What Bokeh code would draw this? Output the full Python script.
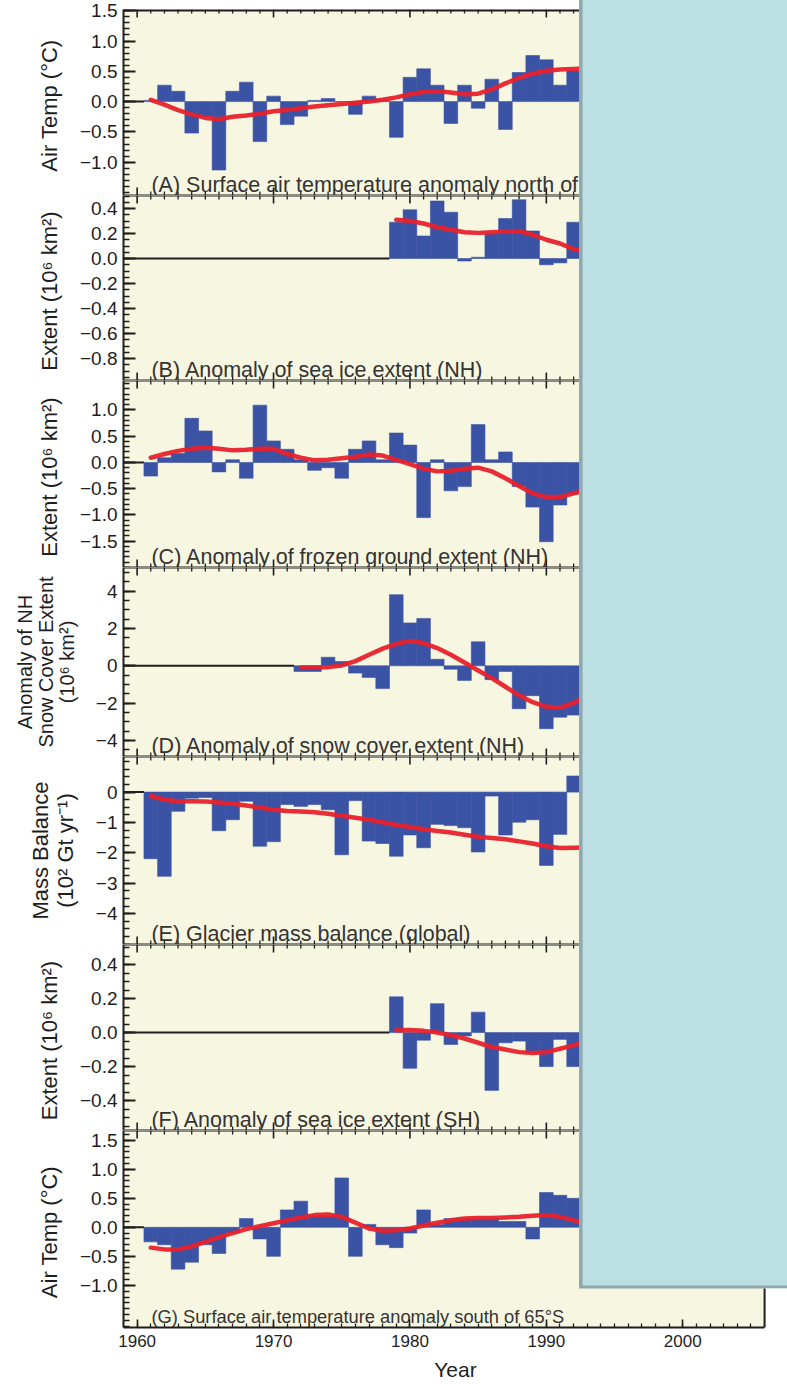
import math
from bokeh.plotting import figure
from bokeh.layouts import column
from bokeh.models import Range1d, FixedTicker, CustomJSTickFormatter
from bokeh.embed import file_html
from bokeh.resources import INLINE
from bokeh.core.properties import value

# ---------------- data ----------------
YEARS_1961 = list(range(1961, 1993))
YEARS_1972 = list(range(1972, 1993))
YEARS_1979 = list(range(1979, 1993))
SMOOTH_YEARS_1961 = list(range(1961, 1994))
SMOOTH_YEARS_1972 = list(range(1972, 1994))
SMOOTH_YEARS_1979 = list(range(1979, 1994))

AIR_TEMP_NORTH = [0.02, 0.27, 0.17, -0.52, -0.25, -1.13, 0.17, 0.32, -0.66, 0.09,
                  -0.38, -0.24, 0.02, 0.05, 0.0, -0.21, 0.09, 0.03, -0.59, 0.40,
                  0.54, 0.27, -0.36, 0.27, -0.11, 0.37, -0.46, 0.48, 0.76, 0.69,
                  0.27, 0.51]
AIR_TEMP_NORTH_SMOOTH = [0.03, -0.05, -0.14, -0.21, -0.27, -0.29, -0.25, -0.23, -0.20, -0.16,
                         -0.14, -0.11, -0.08, -0.06, -0.04, -0.02, 0.0, 0.03, 0.07, 0.12,
                         0.16, 0.17, 0.15, 0.12, 0.13, 0.20, 0.30, 0.39, 0.46, 0.51,
                         0.53, 0.54, 0.55]

SEA_ICE_NH = [0.29, 0.39, 0.18, 0.46, 0.37, -0.02, 0.01, 0.20, 0.32, 0.47, 0.22, -0.05, -0.035, 0.29]
SEA_ICE_NH_SMOOTH = [0.31, 0.30, 0.28, 0.25, 0.23, 0.21, 0.205, 0.21, 0.215, 0.22, 0.19, 0.15, 0.12, 0.075, 0.05]

FROZEN_GROUND = [-0.26, 0.09, 0.17, 0.84, 0.60, -0.18, 0.05, -0.30, 1.09, 0.41,
                 0.25, 0.05, -0.15, -0.10, -0.30, 0.25, 0.41, 0.05, 0.56, 0.33,
                 -1.05, 0.05, -0.54, -0.46, 0.72, 0.05, 0.20, -0.46, -0.85, -1.51,
                 -0.81, -0.60]
FROZEN_GROUND_SMOOTH = [0.09, 0.16, 0.22, 0.26, 0.28, 0.26, 0.23, 0.24, 0.26, 0.26,
                        0.16, 0.09, 0.04, 0.05, 0.08, 0.11, 0.15, 0.13, 0.05, -0.03,
                        -0.12, -0.17, -0.16, -0.12, -0.10, -0.17, -0.30, -0.45, -0.59, -0.66,
                        -0.66, -0.59, -0.52]

SNOW_COVER = [-0.30, -0.30, 0.46, 0.23, -0.39, -0.62, -1.22, 3.81, 2.30, 2.54,
              0.35, -0.18, -0.78, 1.29, -0.74, -0.30, -2.30, -1.60, -3.37, -2.75, -2.64]
SNOW_COVER_SMOOTH = [-0.09, -0.09, -0.07, 0.02, 0.25, 0.59, 0.92, 1.18, 1.33, 1.22,
                     0.95, 0.59, 0.18, -0.25, -0.66, -1.12, -1.58, -1.95, -2.20, -2.24,
                     -1.99, -1.60]

GLACIER = [-2.19, -2.77, -0.63, -0.20, -0.18, -1.27, -0.91, -0.30, -1.78, -1.63,
           -0.41, -0.47, -0.41, -0.58, -2.06, -0.28, -1.61, -1.69, -2.11, -1.41,
           -1.83, -1.06, -1.10, -1.17, -1.97, -0.13, -1.41, -0.99, -0.91, -2.41,
           -1.39, 0.53]
GLACIER_SMOOTH = [-0.13, -0.25, -0.30, -0.30, -0.31, -0.34, -0.38, -0.44, -0.51, -0.58,
                  -0.62, -0.64, -0.66, -0.71, -0.78, -0.84, -0.91, -0.99, -1.08, -1.15,
                  -1.22, -1.28, -1.33, -1.40, -1.47, -1.51, -1.55, -1.62, -1.69, -1.78,
                  -1.84, -1.83, -1.82]

SEA_ICE_SH = [0.21, -0.21, -0.045, 0.17, -0.07, -0.02, 0.12, -0.34, -0.06, -0.05, -0.12, -0.20, -0.04, -0.20]
SEA_ICE_SH_SMOOTH = [0.014, 0.015, 0.01, 0.0, -0.016, -0.035, -0.06, -0.085, -0.10, -0.115,
                     -0.12, -0.115, -0.095, -0.075, -0.05]

AIR_TEMP_SOUTH = [-0.25, -0.30, -0.72, -0.60, -0.30, -0.45, -0.10, 0.15, -0.20, -0.50,
                  0.30, 0.45, 0.20, 0.20, 0.85, -0.50, 0.05, -0.30, -0.35, -0.10,
                  0.30, 0.05, 0.15, 0.15, 0.15, 0.15, 0.10, 0.10, -0.20, 0.60,
                  0.55, 0.50]
AIR_TEMP_SOUTH_SMOOTH = [-0.35, -0.38, -0.38, -0.33, -0.25, -0.17, -0.10, -0.03, 0.02, 0.07,
                         0.12, 0.17, 0.21, 0.22, 0.18, 0.08, -0.02, -0.06, -0.05, -0.02,
                         0.03, 0.08, 0.12, 0.15, 0.16, 0.16, 0.17, 0.18, 0.20, 0.21,
                         0.18, 0.12, 0.08]

X_TICKS = [1960, 1970, 1980, 1990, 2000]
X_TICK_LABELS = ["1960", "1970", "1980", "1990", "2000"]
X_MINOR = list(range(1960, 2007))

# ---------------- styling / layout ----------------
CREAM = "#F7F6E1"
BLUE = "#3A53A5"
RED = "#E8212B"
BOX_FILL = "#BCDFE3"
BOX_EDGE = "#8EA8AF"
INK = "#1E1E1E"
TEXT_GREY = "#333333"
FONT = "Liberation Sans"

FIG_W = 787
FRAME_LEFT_PAD = 123
X_START, X_END = 1959.0, 2007.68
PANEL_RIGHT = 2006.0
BOX_LEFT = 1992.4
PX_PER_YEAR = (FIG_W - FRAME_LEFT_PAD) / (X_END - X_START)

PANELS = [
    dict(years=YEARS_1961, vals=AIR_TEMP_NORTH, syears=SMOOTH_YEARS_1961, svals=AIR_TEMP_NORTH_SMOOTH,
         ylim=(-1.55, 1.52), major=[-1.0, -0.5, 0.0, 0.5, 1.0, 1.5], step=0.1, digits=1,
         ylabel="Air Temp  (°C)", lsize="22px", lh=1.0, tsize="21.5px",
         title="(A) Surface air temperature anomaly north of 65°N", frame_h=186, top=9, bottom=0),
    dict(years=YEARS_1979, vals=SEA_ICE_NH, syears=SMOOTH_YEARS_1979, svals=SEA_ICE_NH_SMOOTH,
         ylim=(-0.976, 0.504), major=[-0.8, -0.6, -0.4, -0.2, 0.0, 0.2, 0.4], step=0.05, digits=1,
         ylabel="Extent  (10⁶ km²)", lsize="22px", lh=1.0, tsize="21.5px",
         title="(B) Anomaly of sea ice extent (NH)", frame_h=185, top=0, bottom=0),
    dict(years=YEARS_1961, vals=FROZEN_GROUND, syears=SMOOTH_YEARS_1961, svals=FROZEN_GROUND_SMOOTH,
         ylim=(-2.0, 1.56), major=[-1.5, -1.0, -0.5, 0.0, 0.5, 1.0], step=0.1, digits=1,
         ylabel="Extent  (10⁶ km²)", lsize="22px", lh=1.0, tsize="21.5px",
         title="(C) Anomaly of frozen ground extent (NH)", frame_h=187, top=0, bottom=0),
    dict(years=YEARS_1972, vals=SNOW_COVER, syears=SMOOTH_YEARS_1972, svals=SNOW_COVER_SMOOTH,
         ylim=(-4.86, 5.27), major=[-4, -2, 0, 2, 4], step=0.5, digits=0,
         ylabel="Anomaly of NH\nSnow Cover Extent\n(10⁶ km²)", lsize="20px", lh=0.95, tsize="21.5px",
         title="(D) Anomaly of snow cover extent (NH)", frame_h=189, top=0, bottom=0),
    dict(years=YEARS_1961, vals=GLACIER, syears=SMOOTH_YEARS_1961, svals=GLACIER_SMOOTH,
         ylim=(-5.01, 1.17), major=[-4, -3, -2, -1, 0], step=0.25, digits=0,
         ylabel="Mass Balance\n(10² Gt yr⁻¹)", lsize="22px", lh=1.0, tsize="21.5px",
         title="(E) Glacier mass balance (global)", frame_h=188, top=0, bottom=0),
    dict(years=YEARS_1979, vals=SEA_ICE_SH, syears=SMOOTH_YEARS_1979, svals=SEA_ICE_SH_SMOOTH,
         ylim=(-0.576, 0.518), major=[-0.4, -0.2, 0.0, 0.2, 0.4], step=0.05, digits=1,
         ylabel="Extent  (10⁶ km²)", lsize="22px", lh=1.0, tsize="21.5px",
         title="(F) Anomaly of sea ice extent (SH)", frame_h=186, top=0, bottom=0),
    dict(years=YEARS_1961, vals=AIR_TEMP_SOUTH, syears=SMOOTH_YEARS_1961, svals=AIR_TEMP_SOUTH_SMOOTH,
         ylim=(-1.725, 1.667), major=[-1.0, -0.5, 0.0, 0.5, 1.0, 1.5], step=0.1, digits=1,
         ylabel="Air Temp  (°C)", lsize="22px", lh=1.0, tsize="18.3px",
         title="(G) Surface air temperature anomaly south of 65°S", frame_h=195, top=0, bottom=58),
]


def minor_ticks(lo, hi, step):
    k0 = math.ceil(lo / step - 1e-9)
    k1 = math.floor(hi / step + 1e-9)
    return [round(k * step, 6) for k in range(k0, k1 + 1)]


def edge_ticks(p, y_edge, direction, ppu, border_w):
    """Inward ticks and border line along the top or bottom edge of a panel (left of the overlay)."""
    majors = [t for t in X_TICKS if t < BOX_LEFT]
    minors = [t for t in X_MINOR if t < BOX_LEFT and t not in X_TICKS]
    p.segment(x0=majors, y0=[y_edge] * len(majors), x1=majors,
              y1=[y_edge + direction * 8 / ppu] * len(majors), line_color=INK, line_width=1.6)
    p.segment(x0=minors, y0=[y_edge] * len(minors), x1=minors,
              y1=[y_edge + direction * 4 / ppu] * len(minors), line_color=INK, line_width=1.3)
    p.segment(x0=[X_START], y0=[y_edge], x1=[BOX_LEFT], y1=[y_edge], line_color=INK, line_width=border_w)


def make_panel(spec, first, last):
    ymin, ymax = spec["ylim"]
    height = spec["top"] + spec["frame_h"] + spec["bottom"]
    ppu = spec["frame_h"] / (ymax - ymin)
    p = figure(width=FIG_W, height=height,
               x_range=Range1d(X_START, X_END), y_range=Range1d(ymin, ymax),
               output_backend="svg", toolbar_location=None,
               x_axis_location="below" if last else None, y_axis_location="left",
               background_fill_color=CREAM, border_fill_color="white",
               outline_line_color=None)
    p.min_border_left = FRAME_LEFT_PAD
    p.min_border_right = 0
    p.min_border_top = spec["top"]
    p.min_border_bottom = 0
    p.grid.visible = False

    # left axis
    ya = p.yaxis[0]
    ya.ticker = FixedTicker(ticks=spec["major"], minor_ticks=minor_ticks(ymin, ymax, spec["step"]))
    ya.formatter = CustomJSTickFormatter(args=dict(d=spec["digits"]),
                                         code="return tick.toFixed(d).replace('-', '\u2212');")
    ya.axis_line_color = INK
    ya.axis_line_width = 2
    ya.major_tick_line_color = INK
    ya.major_tick_line_width = 2
    ya.minor_tick_line_color = INK
    ya.minor_tick_line_width = 1.5
    ya.major_tick_in = 12
    ya.major_tick_out = 0
    ya.minor_tick_in = 6
    ya.minor_tick_out = 0
    ya.major_label_text_font = FONT
    ya.major_label_text_font_size = "19px"
    ya.major_label_text_color = INK
    ya.major_label_standoff = 6
    ya.axis_label = spec["ylabel"]
    ya.axis_label_text_font = FONT
    ya.axis_label_text_font_size = spec["lsize"]
    ya.axis_label_text_font_style = "normal"
    ya.axis_label_text_color = INK
    ya.axis_label_text_line_height = spec["lh"]
    ya.axis_label_standoff = 15

    # bottom axis with year labels only on the last panel
    if last:
        xa = p.xaxis[0]
        xa.ticker = FixedTicker(ticks=X_TICKS, minor_ticks=X_MINOR)
        xa.bounds = (X_START, PANEL_RIGHT)
        xa.major_label_overrides = {t: s for t, s in zip(X_TICKS, X_TICK_LABELS)}
        xa.axis_line_color = INK
        xa.axis_line_width = 2
        xa.major_tick_line_color = INK
        xa.major_tick_line_width = 1.6
        xa.minor_tick_line_color = INK
        xa.minor_tick_line_width = 1.3
        xa.major_tick_in = 8
        xa.major_tick_out = 0
        xa.minor_tick_in = 4
        xa.minor_tick_out = 0
        xa.major_label_text_font = FONT
        xa.major_label_text_font_size = "17px"
        xa.major_label_text_color = INK
        xa.major_label_standoff = 7
        xa.axis_label = "Year"
        xa.axis_label_text_font = FONT
        xa.axis_label_text_font_size = "21px"
        xa.axis_label_text_font_style = "normal"
        xa.axis_label_text_color = INK
        xa.axis_label_standoff = 8
    else:
        edge_ticks(p, ymin, 1, ppu, 2)
    edge_ticks(p, ymax, -1, ppu, 4 if first else 2)

    years, vals = spec["years"], spec["vals"]
    # zero line to the left of the record
    p.segment(x0=[X_START], y0=[0], x1=[years[0] - 0.5], y1=[0], line_color=INK, line_width=2)
    # yearly anomalies
    p.vbar(x=years, top=vals, bottom=0, width=1.0, fill_color=BLUE, line_color=BLUE, line_width=0.6)
    # smoothed curve
    p.line(spec["syears"], spec["svals"], line_color=RED, line_width=4.5,
           line_cap="round", line_join="round", line_alpha=0.95)
    # panel caption
    p.text(x=[1961.05], y=[ymin + 11 / ppu], text=[spec["title"]],
           text_font=value(FONT), text_font_size=spec["tsize"], text_color=TEXT_GREY,
           text_baseline="alphabetic", text_align="left")

    # overlaid light-blue panel
    pad = ymax - ymin
    box_bottom = ymin + 40 / ppu if last else ymin - pad
    edge_w = 3.5 / PX_PER_YEAR
    r = p.quad(left=[BOX_LEFT], right=[X_END + 1], bottom=[box_bottom], top=[ymax + pad],
               fill_color=BOX_FILL, line_color=None)
    r.level = "overlay"
    r = p.quad(left=[BOX_LEFT], right=[BOX_LEFT + edge_w], bottom=[box_bottom], top=[ymax + pad],
               fill_color=BOX_EDGE, line_color=None)
    r.level = "overlay"
    if last:
        r = p.quad(left=[BOX_LEFT], right=[X_END + 1], bottom=[box_bottom - 1.5 / ppu],
                   top=[box_bottom + 1.5 / ppu], fill_color=BOX_EDGE, line_color=None)
        r.level = "overlay"
        r = p.quad(left=[PANEL_RIGHT], right=[X_END + 1], bottom=[ymin - pad],
                   top=[box_bottom - 1.5 / ppu], fill_color="white", line_color=None)
        r.level = "overlay"
        r = p.segment(x0=[PANEL_RIGHT], y0=[ymin], x1=[PANEL_RIGHT], y1=[box_bottom - 1.5 / ppu],
                      line_color=INK, line_width=2)
        r.level = "overlay"
    return p


plots = [make_panel(s, i == 0, i == len(PANELS) - 1) for i, s in enumerate(PANELS)]
layout = column(*plots, spacing=0)

open("out.html", "w").write(file_html(layout, INLINE))
